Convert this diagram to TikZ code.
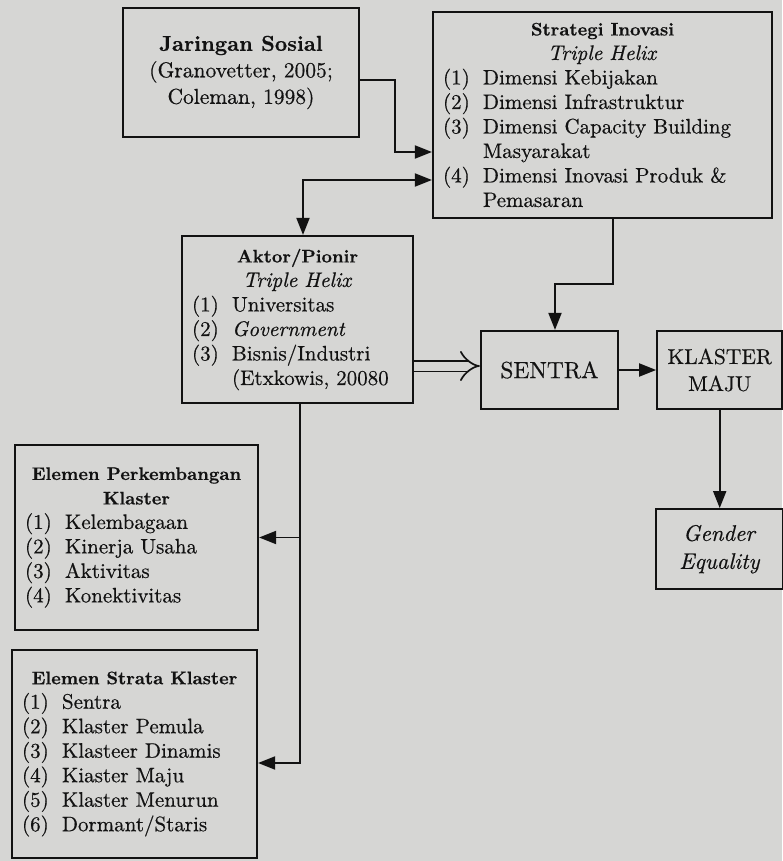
\documentclass[tikz,border=0pt]{standalone}
\usepackage{fontspec}
\setmainfont{lmroman10-regular.otf}[BoldFont=lmroman10-bold.otf,ItalicFont=lmroman10-italic.otf,BoldItalicFont=lmroman10-bolditalic.otf,FakeBold=0.5]
\usepackage{tikz}
\usetikzlibrary{arrows.meta,positioning}
\definecolor{paper}{RGB}{214,214,212}
\definecolor{ink}{RGB}{18,18,18}
\tikzstyle{block}=[draw=ink,line width=2.2pt,fill=paper,text=ink,font=\fontsize{21}{24.5}\selectfont,inner sep=0pt]
\tikzstyle{listbox}=[block,align=left,inner xsep=10pt]
\tikzstyle{flow}=[draw=ink,line width=1.9pt,->]
\tikzstyle{imply}=[draw=ink,line width=1.7pt,double=paper,double distance=9pt,-Implies]
\newcommand{\head}[1]{{\fontsize{18.2}{24.5}\selectfont\bfseries #1}}
\newcommand{\itm}[2]{\par\noindent\makebox[40pt][l]{#1}#2}

\begin{document}
\begin{tikzpicture}[x=1pt,y=1pt,>={Triangle[length=17pt,width=13pt]}]
\path[use as bounding box,fill=paper] (0,0) rectangle (782,-861);

\node[block,align=center,minimum width=236pt,minimum height=129pt,font=\fontsize{21.5}{26.5}\selectfont] (jaringan) at (241,-72.5)
    {{\fontsize{21.5}{26.5}\selectfont\bfseries Jaringan Sosial}\\(Granovetter, 2005;\\Coleman, 1998)};
\node[listbox,text width=319pt,minimum height=206pt] (strategi) at (602.5,-115)
    {{\centering\head{Strategi Inovasi}\\\textit{Triple Helix}\par}
    \itm{(1)}{Dimensi Kebijakan}
    \itm{(2)}{Dimensi Infrastruktur}
    \itm{(3)}{Dimensi Capacity Building}
    \itm{}{Masyarakat}
    \itm{(4)}{Dimensi Inovasi Produk \&}
    \itm{}{Pemasaran}};
\node[listbox,text width=211pt,minimum height=167pt] (aktor) at (297.5,-319.5)
    {{\centering\head{Aktor/Pionir}\\\textit{Triple Helix}\par}
    \itm{(1)}{Universitas}
    \itm{(2)}{\textit{Government}}
    \itm{(3)}{Bisnis/Industri}
    \itm{}{(Etxkowis, 20080}};
\node[block,minimum width=137pt,minimum height=78pt,font=\fontsize{23.4}{27}\selectfont] (sentra) at (549.5,-370) {SENTRA};
\node[block,align=center,minimum width=125pt,minimum height=78pt,font=\fontsize{21.5}{27}\selectfont,right=37pt of sentra] (maju) {KLASTER\\MAJU};
\node[block,align=center,minimum width=127pt,minimum height=80pt,font=\fontsize{22.5}{28}\selectfont,below=98pt of maju] (gender) {\textit{Gender}\\\textit{Equality}};
\node[listbox,text width=223pt,minimum height=185pt] (perkemb) at (136.5,-537.5)
    {{\centering\head{Elemen Perkembangan}\\\head{Klaster}\par}
    \itm{(1)}{Kelembagaan}
    \itm{(2)}{Kinerja Usaha}
    \itm{(3)}{Aktivitas}
    \itm{(4)}{Konektivitas}};
\node[listbox,text width=225pt,minimum height=208pt] (strata) at (134.5,-754)
    {{\centering\head{Elemen Strata Klaster}\par}
    \itm{(1)}{Sentra}
    \itm{(2)}{Klaster Pemula}
    \itm{(3)}{Klasteer Dinamis}
    \itm{(4)}{Kiaster Maju}
    \itm{(5)}{Klaster Menurun}
    \itm{(6)}{Dormant/Staris}};

\draw[flow] ([yshift=-7.5pt]jaringan.east) -- ++(35,0) |- ([yshift=-37pt]strategi.west);
\draw[flow,<->] ([yshift=-65pt]strategi.west) -| ([xshift=5.5pt]aktor.north);
\draw[flow] ([xshift=10.5pt]strategi.south) -- ++(0,-65) -| ([xshift=5.5pt]sentra.north);
\draw[imply] ([yshift=-46.5pt]aktor.east) -- ([yshift=-46.5pt]aktor.east -| sentra.west);
\draw[flow] (sentra) -- (maju);
\draw[flow] (maju) -- (gender);
\coordinate (split) at ([xshift=2.5pt]aktor.south |- perkemb.east);
\draw[flow] ([xshift=2.5pt]aktor.south) |- ([yshift=-9pt]strata.east);
\draw[flow] (split) -- (perkemb.east);
\end{tikzpicture}
\end{document}
